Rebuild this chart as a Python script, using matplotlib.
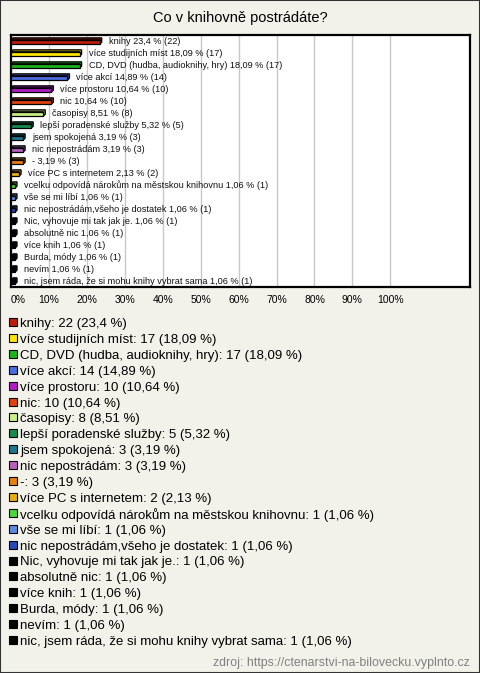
import numpy as np
import matplotlib
matplotlib.use("Agg")
import matplotlib.pyplot as plt
from matplotlib.patches import Rectangle, Polygon

# Data
answers = [
    "knihy", "více studijních míst", "CD, DVD (hudba, audioknihy, hry)",
    "více akcí", "více prostoru", "nic", "časopisy", "lepší poradenské služby",
    "jsem spokojená", "nic nepostrádám", "-", "více PC s internetem",
    "vcelku odpovídá nárokům na městskou knihovnu", "vše se mi líbí",
    "nic nepostrádám,všeho je dostatek", "Nic, vyhovuje mi tak jak je.",
    "absolutně nic", "více knih", "Burda, módy", "nevím",
    "nic, jsem ráda, že si mohu knihy vybrat sama",
]
counts = [22, 17, 17, 14, 10, 10, 8, 5, 3, 3, 3, 2, 1, 1, 1, 1, 1, 1, 1, 1, 1]
percents = [23.4, 18.09, 18.09, 14.89, 10.64, 10.64, 8.51, 5.32, 3.19, 3.19,
            3.19, 2.13, 1.06, 1.06, 1.06, 1.06, 1.06, 1.06, 1.06, 1.06, 1.06]
colors = ["#BC1C0A", "#FFE600", "#1CB41C", "#4C6CE4", "#B41CC8", "#E0400C",
          "#C8F084", "#168C50", "#1C7890", "#B860BC", "#E8800C", "#E8B00C",
          "#48D838", "#5C8CE0", "#2848B8", "#000000", "#000000", "#000000",
          "#000000", "#000000", "#000000"]
ticks = [0, 10, 20, 30, 40, 50, 60, 70, 80, 90, 100]
title = "Co v knihovně postrádáte?"
source = "zdroj: https://ctenarstvi-na-bilovecku.vyplnto.cz"

W, H = 480, 673
BG = "#F3F2EA"
FONT = "Liberation Sans"


def fmt(p):
    s = ("%.2f" % p).rstrip("0").rstrip(".")
    return s.replace(".", ",")


def darker(c, f=0.65):
    r, g, b = matplotlib.colors.to_rgb(c)
    return (r * f, g * f, b * f)


fig = plt.figure(figsize=(W / 100, H / 100), dpi=100, facecolor=BG)

# plot box in pixel coordinates
left, right, top, bottom = 11, 470, 35, 287
ax = fig.add_axes([left / W, 1 - bottom / H, (right - left) / W, (bottom - top) / H])
ax.set_facecolor("white")
ax.set_xlim(0, 121)
ax.set_ylim(len(answers) - 0.5, -0.5)
for s in ax.spines.values():
    s.set_linewidth(1.6)
    s.set_color("black")
ax.set_xticks(ticks)
ax.set_xticklabels([f"{t}%" for t in ticks], fontsize=7.5, family=FONT)
ax.get_xticklabels()[0].set_ha("left")
ax.tick_params(axis="x", length=0, pad=6)
ax.set_yticks([])
ax.grid(axis="x", color="#C8C8C8", lw=1)
ax.set_axisbelow(True)

px_x = 121 / (right - left)        # data units per pixel in x
px_y = len(answers) / (bottom - top)
dx, dy = 2 * px_x, 2 * px_y
h = 0.36
for i, (v, c) in enumerate(zip(percents, colors)):
    y0 = i - h / 2 + dy / 2
    # top face (3D)
    ax.add_patch(Polygon([(0, y0), (dx, y0 - dy), (v + dx, y0 - dy), (v + dx, y0 + h - dy),
                          (v, y0 + h), (v, y0)],
                         closed=True, facecolor=darker(c), edgecolor="black", lw=0.9, zorder=3))
    ax.add_patch(Rectangle((0, y0), v, h, facecolor=c, edgecolor="black", lw=0.9, zorder=4))
    ax.annotate(f"{answers[i]} {fmt(v)} % ({counts[i]})", (v, i), xytext=(9, 0),
                textcoords="offset pixels", va="center", ha="left",
                fontsize=6.6, family=FONT, color="#111111", zorder=5)

fig.text(0.5, 1 - 18 / H, title, ha="center", va="center", fontsize=10.5, family=FONT)

# legend below the chart
leg_top, leg_step = 323, 15.9
for i, (name, n, p, c) in enumerate(zip(answers, counts, percents, colors)):
    yc = leg_top + i * leg_step
    fig.patches.append(Rectangle((9 / W, 1 - (yc + 3) / H), 8 / W, 8 / H,
                                 transform=fig.transFigure, facecolor=c,
                                 edgecolor="black", lw=0.8))
    fig.text(20 / W, 1 - (yc + 1) / H, f"{name}: {n} ({fmt(p)} %)", ha="left", va="center",
             fontsize=9.55, family=FONT, color="black")

fig.text(470 / W, 1 - 663 / H, source, ha="right", va="center", fontsize=8.9,
         family=FONT, color="#808080")

fig.patches.append(Rectangle((0, 0), 1, 1, transform=fig.transFigure, fill=False,
                             edgecolor="#333333", lw=1.5))

fig.savefig("out.png", dpi=100, facecolor=BG)
